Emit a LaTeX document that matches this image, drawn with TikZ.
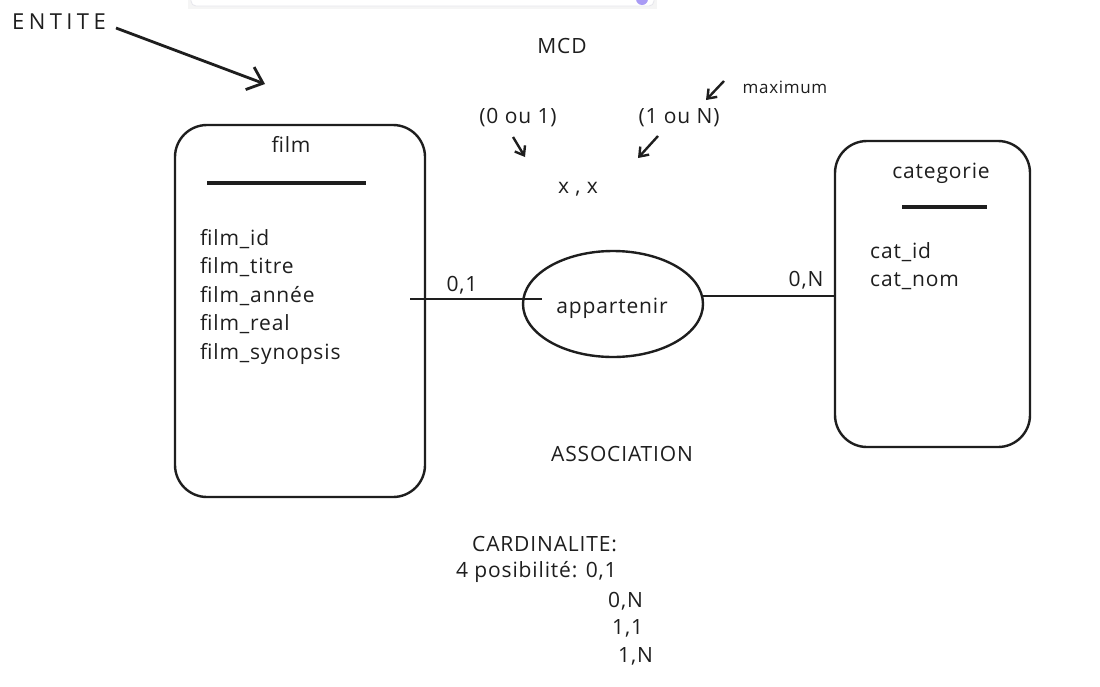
\documentclass[tikz,border=0pt]{standalone}
\usepackage{fontspec}
\setmainfont{Open Sans}[LetterSpace=4]
\usetikzlibrary{arrows.meta,shapes.geometric,calc}
\definecolor{ink}{HTML}{1E1E1E}
\definecolor{barline}{HTML}{E6E6EC}
\definecolor{purp}{HTML}{A99BF5}
\tikzset{
  hand/.style={font=\fontsize{21}{28.5}\selectfont, text=ink, inner sep=0pt},
  small/.style={font=\fontsize{17}{20}\selectfont, text=ink, inner sep=0pt},
  entity/.style={draw=ink, line width=2.4pt, rounded corners=32pt, inner sep=0pt},
  rel/.style={draw=ink, line width=2.4pt, ellipse, inner sep=0pt},
  link/.style={draw=ink, line width=2.6pt},
  sep/.style={draw=ink, line width=3.2pt},
  bigarrow/.style={draw=ink, line width=2.8pt, -{Straight Barb[length=14pt,width=24pt,line width=2.8pt]}},
  smallarrow/.style={draw=ink, line width=2.4pt, -{Straight Barb[length=8pt,width=12pt,line width=2.4pt]}},
}
\begin{document}
\begin{tikzpicture}[x=1pt,y=-1pt]
\useasboundingbox (0,0) rectangle (1100,686);
\fill[white] (0,0) rectangle (1100,686);
% cut-off toolbar at the top
\fill[black!4] (188,-10) rectangle (657,9);
\filldraw[fill=white, draw=barline, line width=0.8pt, rounded corners=5pt] (191,-12) rectangle (654,6);
\fill[purp] (642,-1) circle (6);

% entities
\node[entity, minimum width=250pt, minimum height=372pt] (film) at (300,311) {};
\node[entity, minimum width=195pt, minimum height=306pt] (cat) at (932.5,294) {};
\node[rel, minimum width=180pt, minimum height=106pt] (app) at (613,304) {};

\node[hand] (filmtitle) at (291,144) {film};
\draw[sep] (207,183) -- (366,183);
\node[hand, anchor=north west, align=left] (filmattr) at (200,229)
  {film\_id\\film\_titre\\film\_année\\film\_real\\film\_synopsis};

\node[hand] (cattitle) at (941,173) {categorie};
\draw[sep] (902,207) -- (987,207);
\node[hand, anchor=north west, align=left] (catattr) at (870,242)
  {cat\_id\\cat\_nom};

\node[hand] (applabel) at (612,308) {appartenir};

% connectors
\coordinate (lstart) at ([xshift=-16pt]film.east |- 0,299);
\draw[link] (lstart) -- ([xshift=20pt]app.west |- lstart);
\draw[link] (app.5) -- (cat.west |- app.5);
\node[hand] (card1) at (462,285) {0,1};
\node[hand] (card2) at (806,280) {0,N};

% labels
\node[hand, font=\fontsize{22}{28}\selectfont\addfontfeature{LetterSpace=20}] (entite) at (59,22) {ENTITE};
\coordinate (entitestart) at (116,28);
\coordinate (entiteend) at (265,84);
\draw[bigarrow] (entitestart) -- (entiteend);

\node[hand] (mcd) at (562,46) {MCD};
\node[hand] (zeroun) at (518,118) {(0 ou 1)};
\node[hand] (unN) at (679,118) {(1 ou N)};
\node[small] (maxi) at (785,87) {maximum};
\node[hand] (xx) at (578,189) {x , x};
\draw[smallarrow] (513,137) -- (525,157);
\draw[smallarrow] (658,136) -- (638,158);
\draw[smallarrow] (724,81) -- (706,100);

\node[hand] (assoc) at (622,454) {ASSOCIATION};

\node[hand, anchor=west] (cardi) at (472,544) {CARDINALITE:};
\node[hand, anchor=west] (poss) at (456,572) {4 posibilité: 0,1};
\node[hand, anchor=west] (c2) at (608,601) {0,N};
\node[hand, anchor=west] (c3) at (612,628) {1,1};
\node[hand, anchor=west] (c4) at (618,656) {1,N};
\end{tikzpicture}
\end{document}
